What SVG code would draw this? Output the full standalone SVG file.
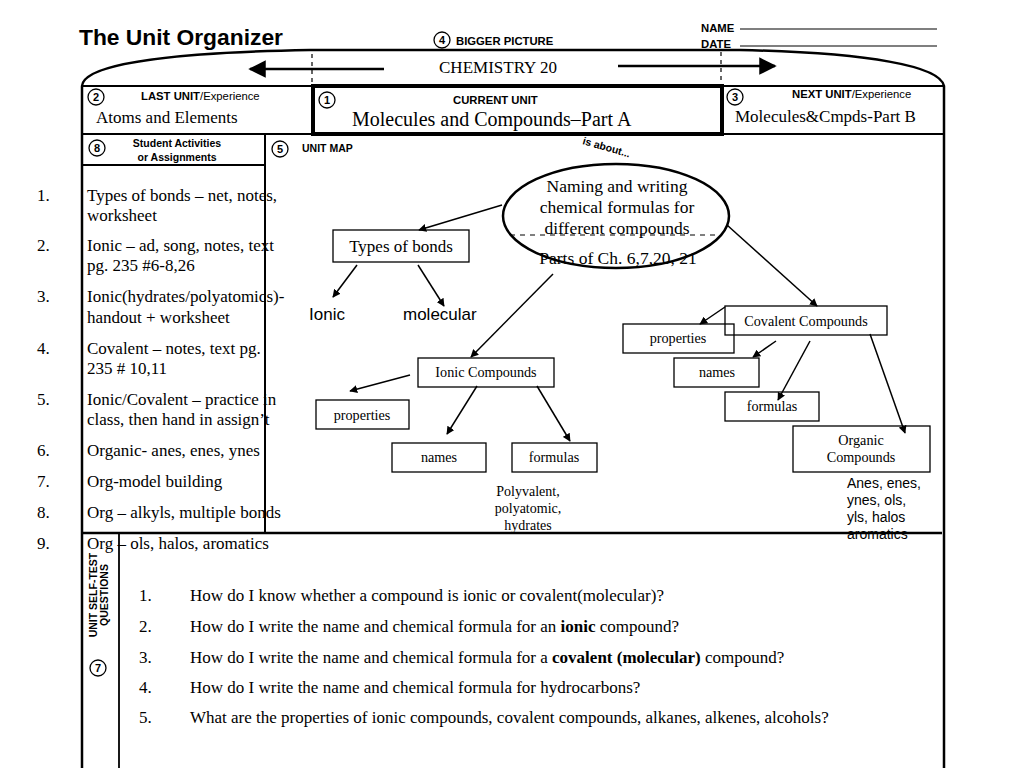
<svg xmlns="http://www.w3.org/2000/svg" width="1024" height="768" viewBox="0 0 1024 768">
<style>
.sans{font-family:"Liberation Sans",Arial,sans-serif}
.b{font-family:"Liberation Sans",Arial,sans-serif;font-weight:bold}
.serif{font-family:"Liberation Serif","Times New Roman",serif}
.hdr{font-size:11.3px}
.item{font-family:"Liberation Serif","Times New Roman",serif;font-size:17px}
.box{fill:none;stroke:#000;stroke-width:1.3}
.lbl{font-family:"Liberation Serif","Times New Roman",serif;font-size:14.2px;text-anchor:middle}
.circ{fill:#fff;stroke:#000;stroke-width:1.3}
.cnum{font-family:"Liberation Sans",Arial,sans-serif;font-weight:bold;font-size:11px;text-anchor:middle}
.frame{fill:none;stroke:#000;stroke-width:2.5}
.conn{fill:none;stroke:#000;stroke-width:1.5;marker-end:url(#ah)}
</style>
<defs>
<marker id="ah" viewBox="0 0 10 10" refX="9" refY="5" markerWidth="8" markerHeight="8" markerUnits="userSpaceOnUse" orient="auto"><path d="M0,0 L10,5 L0,10 z" fill="#000"/></marker>
<marker id="big" viewBox="0 0 10 10" refX="9" refY="5" markerWidth="7" markerHeight="7" orient="auto"><path d="M0,0 L10,5 L0,10 z" fill="#000"/></marker>
</defs>
<rect width="1024" height="768" fill="#fff"/>

<g id="header">
<text x="79" y="45" class="b" font-size="22.8">The Unit Organizer</text>
<circle cx="442" cy="40" r="8" class="circ"/><text x="442" y="44" class="cnum">4</text>
<text x="456" y="45" class="b hdr">BIGGER PICTURE</text>
<text x="701" y="32" class="b hdr">NAME</text>
<text x="701" y="48" class="b hdr">DATE</text>
<line x1="740" y1="29" x2="937" y2="29" stroke="#000" stroke-width="1.2"/>
<line x1="740" y1="46" x2="937" y2="46" stroke="#000" stroke-width="1.2"/>
</g>

<g id="frame">
<path d="M82,768 L82,86 C84,60 200,52 310,50 L740,50 C870,53 940,66 944,86 L944,768" class="frame"/>
<line x1="82" y1="86" x2="944" y2="86" stroke="#000" stroke-width="1.8"/>
<line x1="82" y1="134" x2="944" y2="134" stroke="#000" stroke-width="1.8"/>
<line x1="312" y1="54" x2="312" y2="86" stroke="#000" stroke-width="1.2" stroke-dasharray="4,4"/>
<line x1="721" y1="52" x2="721" y2="86" stroke="#000" stroke-width="1.2" stroke-dasharray="4,4"/>
<rect x="313" y="86" width="409" height="48" fill="none" stroke="#000" stroke-width="4"/>
<line x1="82" y1="165" x2="265" y2="165" stroke="#000" stroke-width="1.8"/>
<line x1="265" y1="134" x2="265" y2="533" stroke="#000" stroke-width="2"/>
<line x1="82" y1="533" x2="942" y2="533" stroke="#000" stroke-width="2.5"/>
<line x1="119" y1="533" x2="119" y2="768" stroke="#000" stroke-width="1.8"/>
</g>

<g id="big-picture">
<text x="498" y="73" class="serif" font-size="17" text-anchor="middle">CHEMISTRY 20</text>
<line x1="384" y1="69" x2="250" y2="69" stroke="#000" stroke-width="2.5" marker-end="url(#big)"/>
<line x1="618" y1="66" x2="775" y2="66" stroke="#000" stroke-width="2.5" marker-end="url(#big)"/>
</g>

<g id="last-unit">
<circle cx="96" cy="97" r="8" class="circ"/><text x="96" y="101" class="cnum">2</text>
<text x="141" y="100" class="sans hdr"><tspan font-weight="bold">LAST UNIT</tspan>/Experience</text>
<text x="96" y="123" class="serif" font-size="17">Atoms and Elements</text>
</g>
<g id="current-unit">
<circle cx="327" cy="100" r="8" class="circ"/><text x="327" y="104" class="cnum">1</text>
<text x="453" y="104" class="b hdr">CURRENT UNIT</text>
<text x="352" y="126" class="serif" font-size="20">Molecules and Compounds–Part A</text>
</g>
<g id="next-unit">
<circle cx="735" cy="97" r="8" class="circ"/><text x="735" y="101" class="cnum">3</text>
<text x="792" y="98" class="sans hdr"><tspan font-weight="bold">NEXT UNIT</tspan>/Experience</text>
<text x="735" y="122" class="serif" font-size="17">Molecules&amp;Cmpds-Part B</text>
</g>

<g id="activities">
<circle cx="97" cy="148" r="8" class="circ"/><text x="97" y="152" class="cnum">8</text>
<text x="177" y="147" class="b" font-size="10.5" text-anchor="middle">Student Activities</text>
<text x="177" y="161" class="b" font-size="10.5" text-anchor="middle">or Assignments</text>
<g class="item">
<text x="37" y="201">1.</text><text x="87" y="201">Types of bonds – net, notes,</text><text x="87" y="221">worksheet</text>
<text x="37" y="251">2.</text><text x="87" y="251">Ionic – ad, song, notes, text</text><text x="87" y="271">pg. 235 #6-8,26</text>
<text x="37" y="302">3.</text><text x="87" y="302">Ionic(hydrates/polyatomics)-</text><text x="87" y="323">handout + worksheet</text>
<text x="37" y="354">4.</text><text x="87" y="354">Covalent – notes, text pg.</text><text x="87" y="374">235 # 10,11</text>
<text x="37" y="405">5.</text><text x="87" y="405">Ionic/Covalent – practice in</text><text x="87" y="425">class, then hand in assign’t</text>
<text x="37" y="456">6.</text><text x="87" y="456">Organic- anes, enes, ynes</text>
<text x="37" y="487">7.</text><text x="87" y="487">Org-model building</text>
<text x="37" y="518">8.</text><text x="87" y="518">Org – alkyls, multiple bonds</text>
<text x="37" y="549">9.</text><text x="87" y="549">Org – ols, halos, aromatics</text>
</g>
</g>

<g id="unit-map-label">
<circle cx="280" cy="149" r="8" class="circ"/><text x="280" y="153" class="cnum">5</text>
<text x="302" y="152" class="b" font-size="10.5">UNIT MAP</text>
<text x="582" y="144" class="b" font-size="10.5" transform="rotate(16 582 144)">is about...</text>
</g>

<g id="main-idea">
<ellipse cx="616" cy="216" rx="113" ry="52" fill="none" stroke="#000" stroke-width="2.5"/>
<g class="serif" font-size="17.5" text-anchor="middle">
<text x="617" y="192">Naming and writing</text>
<text x="617" y="213">chemical formulas for</text>
<text x="617" y="234">different compounds</text>
<text x="618" y="264">Parts of Ch. 6,7,20, 21</text>
</g>
<line x1="510" y1="235" x2="716" y2="235" stroke="#000" stroke-width="1" stroke-dasharray="5,5"/>
</g>

<g id="types-of-bonds"><rect x="333" y="230" width="136" height="32" class="box"/><text x="401" y="252" class="serif" font-size="17" text-anchor="middle">Types of bonds</text></g>
<g id="ionic"><text x="309" y="320" class="sans" font-size="17">Ionic</text></g>
<g id="molecular"><text x="403" y="320" class="sans" font-size="17">molecular</text></g>

<g id="ionic-compounds"><rect x="418" y="358" width="136" height="29" class="box"/><text x="486" y="377" class="lbl">Ionic Compounds</text></g>
<g id="ionic-properties"><rect x="316" y="400" width="93" height="29" class="box"/><text x="362" y="420" class="lbl">properties</text></g>
<g id="ionic-names"><rect x="392" y="443" width="94" height="29" class="box"/><text x="439" y="462" class="lbl">names</text></g>
<g id="ionic-formulas"><rect x="512" y="443" width="85" height="29" class="box"/><text x="554" y="462" class="lbl">formulas</text></g>
<g id="ionic-note" class="serif" font-size="14" text-anchor="middle">
<text x="528" y="496">Polyvalent,</text><text x="528" y="513">polyatomic,</text><text x="528" y="530">hydrates</text>
</g>

<g id="covalent-properties"><rect x="623" y="324" width="111" height="29" class="box"/><text x="678" y="343" class="lbl">properties</text></g>
<g id="covalent-compounds"><rect x="725" y="306" width="162" height="29" class="box"/><text x="806" y="326" class="lbl">Covalent Compounds</text></g>
<g id="covalent-names"><rect x="674" y="358" width="85" height="29" class="box"/><text x="717" y="377" class="lbl">names</text></g>
<g id="covalent-formulas"><rect x="725" y="392" width="94" height="29" class="box"/><text x="772" y="411" class="lbl">formulas</text></g>
<g id="organic-compounds"><rect x="793" y="426" width="137" height="46" class="box"/><text x="861" y="445" class="lbl">Organic</text><text x="861" y="462" class="lbl">Compounds</text></g>
<g id="organic-note" class="sans" font-size="14">
<text x="847" y="488">Anes, enes,</text><text x="847" y="505">ynes, ols,</text><text x="847" y="522">yls, halos</text><text x="847" y="539">aromatics</text>
</g>

<g id="self-test">
<text class="b" font-size="10.5" text-anchor="middle" transform="translate(97 595) rotate(-90)">UNIT SELF-TEST</text>
<text class="b" font-size="10.5" text-anchor="middle" transform="translate(108 595) rotate(-90)">QUESTIONS</text>
<circle cx="98" cy="668" r="8" class="circ"/><text x="98" y="672" class="cnum">7</text>
<g class="item">
<text x="139" y="601">1.</text><text x="190" y="601">How do I know whether a compound is ionic or covalent(molecular)?</text>
<text x="139" y="632">2.</text><text x="190" y="632">How do I write the name and chemical formula for an <tspan font-weight="bold">ionic</tspan> compound?</text>
<text x="139" y="663">3.</text><text x="190" y="663">How do I write the name and chemical formula for a <tspan font-weight="bold">covalent (molecular)</tspan> compound?</text>
<text x="139" y="693">4.</text><text x="190" y="693">How do I write the name and chemical formula for hydrocarbons?</text>
<text x="139" y="723">5.</text><text x="190" y="723">What are the properties of ionic compounds, covalent compounds, alkanes, alkenes, alcohols?</text>
</g>
</g>

<g id="connectors">
<line x1="502" y1="205" x2="419" y2="230" class="conn"/>
<line x1="357" y1="265" x2="333" y2="297" class="conn"/>
<line x1="418" y1="265" x2="444" y2="306" class="conn"/>
<line x1="553" y1="274" x2="471" y2="357" class="conn"/>
<line x1="410" y1="375" x2="350" y2="391" class="conn"/>
<line x1="477" y1="386" x2="447" y2="434" class="conn"/>
<line x1="537" y1="386" x2="570" y2="441" class="conn"/>
<line x1="727" y1="225" x2="817" y2="306" class="conn"/>
<line x1="725" y1="307" x2="700" y2="324" class="conn"/>
<line x1="776" y1="341" x2="753" y2="357" class="conn"/>
<line x1="810" y1="341" x2="778" y2="400" class="conn"/>
<line x1="870" y1="334" x2="905" y2="433" class="conn"/>
</g>
</svg>
